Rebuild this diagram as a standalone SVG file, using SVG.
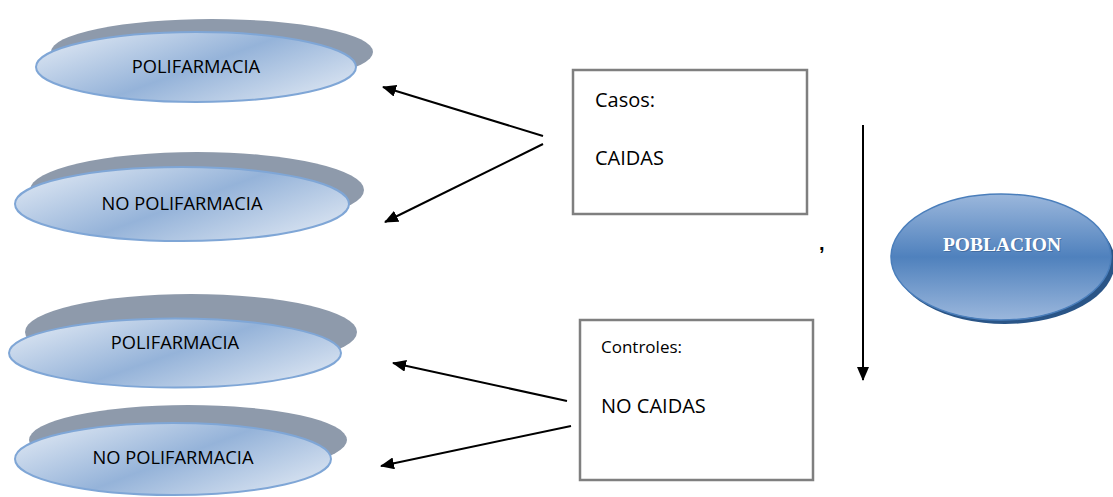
<svg xmlns="http://www.w3.org/2000/svg" width="1113" height="497" viewBox="0 0 1113 497">
<defs>
<linearGradient id="gFront" x1="0" y1="0.2" x2="1" y2="0.8">
<stop offset="0" stop-color="#dbe5f2"/>
<stop offset="0.5" stop-color="#95b3d9"/>
<stop offset="1" stop-color="#dbe5f2"/>
</linearGradient>
<linearGradient id="gPob" x1="0" y1="0" x2="0" y2="1">
<stop offset="0" stop-color="#9bb7dc"/>
<stop offset="0.5" stop-color="#4f81bd"/>
<stop offset="1" stop-color="#9bb7dc"/>
</linearGradient>
<marker id="ah" markerWidth="14" markerHeight="12" refX="13" refY="6" orient="auto" markerUnits="userSpaceOnUse">
<path d="M0,0 L14,6 L0,12 z" fill="#000"/>
</marker>
</defs>
<style>
.shadow{fill:#8e9aab;}
.front{fill:url(#gFront);stroke:#7fa6d6;stroke-width:2;}
.lbl{font-family:"Open Sans",sans-serif;font-size:18.3px;fill:#000;text-anchor:middle;}
.box{fill:#fff;stroke:#7f7f7f;stroke-width:2.5;}
.btxt{font-family:"Open Sans",sans-serif;font-size:20px;fill:#000;}
.conn{stroke:#000;stroke-width:2;fill:none;marker-end:url(#ah);}
</style>
<rect width="1113" height="497" fill="#fff"/>

<g id="e1">
<ellipse class="shadow" cx="212" cy="52" rx="161" ry="33"/>
<ellipse class="front" cx="196" cy="67" rx="160" ry="35"/>
<text class="lbl" x="196" y="73">POLIFARMACIA</text>
</g>
<g id="e2">
<ellipse class="shadow" cx="197" cy="190" rx="167" ry="38"/>
<ellipse class="front" cx="182" cy="204" rx="167" ry="37"/>
<text class="lbl" x="182" y="210">NO POLIFARMACIA</text>
</g>
<g id="e3">
<ellipse class="shadow" cx="191" cy="332" rx="166" ry="38"/>
<ellipse class="front" cx="175" cy="353" rx="166" ry="34.5"/>
<text class="lbl" x="175" y="349">POLIFARMACIA</text>
</g>
<g id="e4">
<ellipse class="shadow" cx="188" cy="440" rx="159" ry="35"/>
<ellipse class="front" cx="173" cy="459" rx="158" ry="36"/>
<text class="lbl" x="173" y="464">NO POLIFARMACIA</text>
</g>

<g id="casos">
<rect class="box" x="573" y="70" width="234" height="144"/>
<text class="btxt" x="595" y="107">Casos:</text>
<text class="btxt" x="595" y="165">CAIDAS</text>
</g>
<g id="controles">
<rect class="box" x="580" y="320" width="233" height="160"/>
<text class="btxt" x="601" y="353" style="font-size:17px">Controles:</text>
<text class="btxt" x="601" y="413">NO CAIDAS</text>
</g>

<g id="poblacion">
<ellipse cx="1005" cy="262" rx="110" ry="62" fill="#2a5587"/>
<ellipse cx="1001" cy="257" rx="110" ry="63" fill="url(#gPob)" stroke="#4a7ebb" stroke-width="1.5"/>
<text x="1002" y="251" text-anchor="middle" font-family="Liberation Serif, serif" font-weight="bold" font-size="19.5" fill="#3a5f8f" opacity="0.6" transform="translate(1,1)">POBLACION</text>
<text x="1002" y="251" text-anchor="middle" font-family="Liberation Serif, serif" font-weight="bold" font-size="19.5" fill="#fff">POBLACION</text>
</g>

<text x="819" y="250" font-family="Liberation Sans, sans-serif" font-size="20" font-weight="bold" fill="#000">,</text>

<g id="connectors">
<line class="conn" x1="543" y1="136" x2="383" y2="87"/>
<line class="conn" x1="543" y1="144" x2="385" y2="222"/>
<line class="conn" x1="567" y1="401" x2="393" y2="363"/>
<line class="conn" x1="571" y1="426" x2="381" y2="466"/>
<line class="conn" x1="863" y1="125" x2="863" y2="380"/>
</g>
</svg>
